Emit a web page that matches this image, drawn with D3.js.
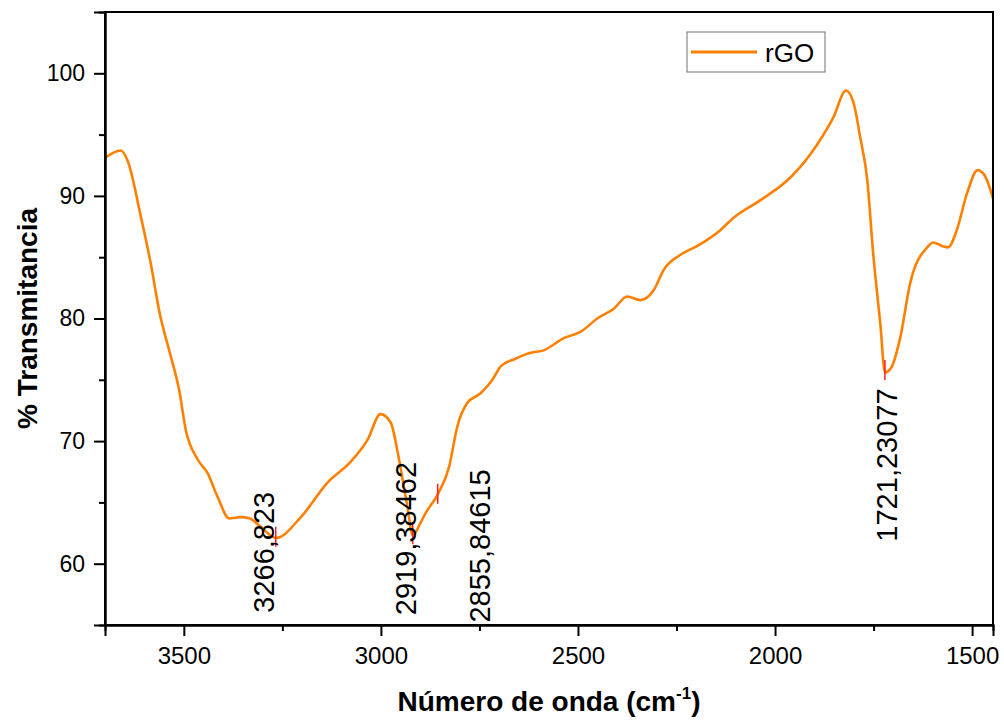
<!DOCTYPE html>
<html>
<head>
<meta charset="utf-8">
<script src="https://cdn.jsdelivr.net/npm/d3@7"></script>
<style>
  body { margin: 0; background: #fff; }
  svg { font-family: "Liberation Sans", Arial, sans-serif; }
</style>
</head>
<body>
<svg width="1004" height="720"></svg>
<script>
// FTIR spectrum of rGO
const wavenumber = [3700, 3660, 3643, 3609, 3584, 3563, 3533, 3512, 3495, 3465, 3440, 3415,
  3385, 3356, 3334, 3305, 3266, 3203, 3136, 3077, 3034, 3001, 2975, 2954, 2933, 2919,
  2900, 2887, 2855, 2827, 2806, 2781, 2747, 2717, 2696, 2660, 2620, 2587, 2536, 2494,
  2451, 2409, 2375, 2342, 2308, 2282, 2240, 2198, 2139, 2106, 2030, 1961, 1893, 1852,
  1820, 1801, 1784, 1766, 1751, 1733, 1721, 1705, 1682, 1657, 1614, 1599, 1575, 1561,
  1539, 1513, 1486, 1467, 1447];
const transmittance = [93.1, 93.7, 92.9, 88.3, 84.5, 80.7, 76.9, 74.2, 70.9, 68.5, 67.4, 65.5,
  63.7, 63.8, 63.7, 63.0, 62.1, 63.8, 66.6, 68.3, 70.1, 72.2, 71.5, 68.5, 64.7, 62.3,
  63.3, 64.1, 65.7, 67.9, 71.2, 73.1, 73.9, 75.0, 76.1, 76.7, 77.2, 77.4, 78.4, 78.9,
  80.0, 80.8, 81.8, 81.5, 82.3, 84.0, 85.2, 85.9, 87.2, 88.2, 89.8, 91.5, 94.2, 96.4,
  98.6, 97.6, 94.8, 91.3, 85.3, 79.6, 75.6, 76.0, 78.5, 82.9, 85.8, 86.2, 85.9, 85.8,
  87.2, 90.2, 92.1, 91.6, 89.8];

// marked peaks
const peakW = [3266.823, 2919.38462, 2855.84615, 1721.23077];
const peakT = [62.2, 62.4, 65.7, 75.8];
const peakText = ["3266,823", "2919,38462", "2855,84615", "1721,23077"];
// where each rotated label starts (wavenumber of baseline, transmittance of start)
const labelW = [3272, 2912, 2722, 1690];
const labelT = [56.0, 55.8, 55.2, 61.8];

const xTicks = [3500, 3000, 2500, 2000, 1500];
const xMinor = [3250, 2750, 2250, 1750];
const yTicks = [60, 70, 80, 90, 100];
const yMinor = [65, 75, 85, 95];

const seriesName = "rGO";

const svg = d3.select("svg"),
  width = +svg.attr("width"),
  height = +svg.attr("height");

const margin = { top: 12, right: 11, bottom: 95, left: 105 };
const x = d3.scaleLinear().domain([3700, 1447]).range([margin.left, width - margin.right]);
const y = d3.scaleLinear().domain([55, 105]).range([height - margin.bottom, margin.top]);

const data = wavenumber.map((w, i) => ({ w, t: transmittance[i] }));

svg.append("clipPath").attr("id", "clip")
  .append("rect")
  .attr("x", margin.left).attr("y", margin.top)
  .attr("width", width - margin.left - margin.right)
  .attr("height", height - margin.top - margin.bottom);

// spectrum
const line = d3.line()
  .x(d => x(d.w))
  .y(d => y(d.t))
  .curve(d3.curveMonotoneX);

svg.append("path")
  .datum(data)
  .attr("clip-path", "url(#clip)")
  .attr("fill", "none")
  .attr("stroke", "#ff8000")
  .attr("stroke-width", 2.6)
  .attr("d", line);

// peak markers
svg.append("g")
  .selectAll("line")
  .data(peakW)
  .enter().append("line")
  .attr("x1", d => x(d)).attr("x2", d => x(d))
  .attr("y1", (d, i) => y(peakT[i]) - 10)
  .attr("y2", (d, i) => y(peakT[i]) + 10)
  .attr("stroke", "#ff2020")
  .attr("stroke-width", 1.5);

svg.append("g")
  .selectAll("text")
  .data(peakText)
  .enter().append("text")
  .attr("transform", (d, i) => `translate(${x(labelW[i])},${y(labelT[i])}) rotate(-90)`)
  .attr("font-size", 29)
  .attr("fill", "#000")
  .text(d => d);

// frame
svg.append("rect")
  .attr("x", margin.left).attr("y", margin.top)
  .attr("width", width - margin.left - margin.right)
  .attr("height", height - margin.top - margin.bottom)
  .attr("fill", "none")
  .attr("stroke", "#000")
  .attr("stroke-width", 2);

// axes
const xAxis = svg.append("g")
  .attr("transform", `translate(0,${height - margin.bottom})`)
  .call(d3.axisBottom(x).tickValues(xTicks).tickSize(11).tickPadding(11).tickFormat(d3.format("d")));
svg.append("g")
  .attr("transform", `translate(0,${height - margin.bottom})`)
  .call(d3.axisBottom(x).tickValues(xMinor).tickSize(6).tickFormat(""));

const yAxis = svg.append("g")
  .attr("transform", `translate(${margin.left},0)`)
  .call(d3.axisLeft(y).tickValues(yTicks).tickSize(11).tickPadding(9));
svg.append("g")
  .attr("transform", `translate(${margin.left},0)`)
  .call(d3.axisLeft(y).tickValues(yMinor).tickSize(6).tickFormat(""));

svg.selectAll(".domain").attr("stroke", "#000").attr("stroke-width", 2);
svg.selectAll(".tick line").attr("stroke", "#000").attr("stroke-width", 2);
xAxis.selectAll("text").attr("font-size", 24).attr("fill", "#000").attr("font-family", "Liberation Sans, Arial, sans-serif");
yAxis.selectAll("text").attr("font-size", 23).attr("fill", "#000").attr("font-family", "Liberation Sans, Arial, sans-serif");

// axis titles
const xTitle = svg.append("text")
  .attr("x", (margin.left + width - margin.right) / 2)
  .attr("y", 711)
  .attr("text-anchor", "middle")
  .attr("font-size", 28)
  .attr("font-weight", "bold");
xTitle.append("tspan").text("Número de onda (cm");
xTitle.append("tspan").attr("font-size", 17).attr("dy", -12).text("-1");
xTitle.append("tspan").attr("dy", 12).text(")");

svg.append("text")
  .attr("transform", `translate(37,${(margin.top + height - margin.bottom) / 2}) rotate(-90)`)
  .attr("text-anchor", "middle")
  .attr("font-size", 28)
  .attr("font-weight", "bold")
  .text("% Transmitancia");

// legend
const legend = svg.append("g").attr("transform", "translate(687,32)");
legend.append("rect")
  .attr("width", 138).attr("height", 40)
  .attr("fill", "#fff")
  .attr("stroke", "#888")
  .attr("stroke-width", 1.2);
legend.append("line")
  .attr("x1", 4).attr("x2", 70)
  .attr("y1", 20).attr("y2", 20)
  .attr("stroke", "#ff8000")
  .attr("stroke-width", 3);
legend.append("text")
  .attr("x", 78).attr("y", 30)
  .attr("font-size", 26)
  .text(seriesName);
</script>
</body>
</html>
